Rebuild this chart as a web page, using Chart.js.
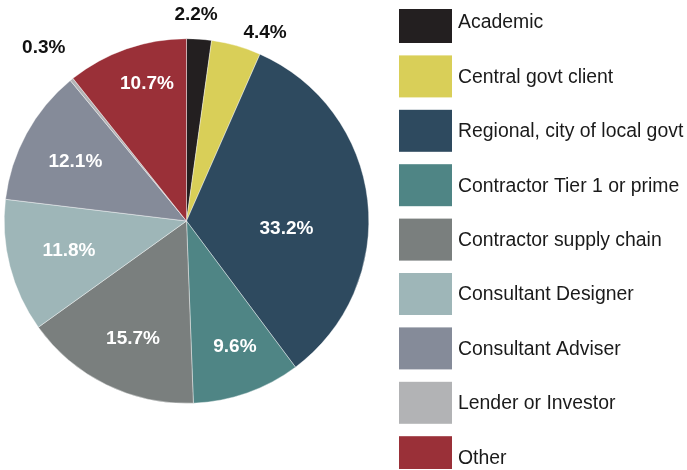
<!DOCTYPE html>
<html>
<head>
<meta charset="utf-8">
<script src="https://cdn.jsdelivr.net/npm/chart.js@4"></script>
<style>
  html, body { margin: 0; padding: 0; background: #fff; }
  #wrap { width: 687px; height: 470px; position: relative; }
</style>
</head>
<body>
<div id="wrap"><canvas id="c" width="687" height="470"></canvas></div>
<script>
// ---- data ----
const categories = [
  "Academic",
  "Central govt client",
  "Regional, city of local govt",
  "Contractor Tier 1 or prime",
  "Contractor supply chain",
  "Consultant Designer",
  "Consultant Adviser",
  "Lender or Investor",
  "Other"
];
const shares = [2.2, 4.4, 33.2, 9.6, 15.7, 11.8, 12.1, 0.3, 10.7];
const colors = ["#231f20", "#d9cf58", "#2e4a5f", "#4f8585", "#7a7f7e", "#9eb6b8", "#858b99", "#b2b3b5", "#9a3038"];

// label placement (radius factor of outer radius, angle shift in degrees, inside?)
const labelRadius = [1.13, 1.12, 0.55, 0.74, 0.71, 0.665, 0.69, 1.232, 0.784];
const labelShift  = [-1.3, 6.8, 10.9, -1.6, -1.7, 0.1, -0.7, -0.4, 3.2];
const labelInside = [false, false, true, true, true, true, true, false, true];

const FONT = "'Liberation Sans', Arial, sans-serif";

const labelPlugin = {
  id: 'sliceLabels',
  afterDatasetsDraw(chart) {
    const ctx = chart.ctx;
    const meta = chart.getDatasetMeta(0);
    ctx.save();
    ctx.font = "bold 19px " + FONT;
    ctx.textAlign = 'center';
    ctx.textBaseline = 'middle';
    meta.data.forEach((arc, i) => {
      const p = arc.getProps(['x', 'y', 'startAngle', 'endAngle', 'outerRadius'], true);
      const a = (p.startAngle + p.endAngle) / 2 + labelShift[i] * Math.PI / 180;
      const r = p.outerRadius * labelRadius[i];
      const x = p.x + Math.cos(a) * r;
      const y = p.y + Math.sin(a) * r;
      ctx.fillStyle = labelInside[i] ? '#ffffff' : '#111111';
      ctx.fillText(shares[i].toFixed(1) + '%', x, y);
    });
    ctx.restore();
  }
};

const legendPlugin = {
  id: 'sideLegend',
  afterDraw(chart) {
    const ctx = chart.ctx;
    const labels = chart.data.labels;
    const bg = chart.data.datasets[0].backgroundColor;
    const boxX = 399, boxW = 53, boxH = 42;
    const firstY = 22, step = 54.4;
    const clipTop = 9, clipBottom = 469;
    ctx.save();
    ctx.font = "19.4px " + FONT;
    ctx.textAlign = 'left';
    ctx.textBaseline = 'middle';
    labels.forEach((lab, i) => {
      const cy = firstY + i * step;
      const top = Math.max(cy - boxH / 2, clipTop);
      const bot = Math.min(cy + boxH / 2, clipBottom);
      ctx.fillStyle = bg[i];
      ctx.fillRect(boxX, top, boxW, bot - top);
      ctx.fillStyle = '#1a1a1a';
      ctx.fillText(lab, 458, cy + 1);
    });
    ctx.restore();
  }
};

new Chart(document.getElementById('c'), {
  type: 'pie',
  data: {
    labels: categories,
    datasets: [{
      data: shares,
      backgroundColor: colors,
      borderColor: '#ffffff',
      borderWidth: 0.4
    }]
  },
  options: {
    responsive: false,
    animation: false,
    layout: { padding: { left: 4, top: 38, right: 318, bottom: 66 } },
    plugins: {
      legend: { display: false },
      tooltip: { enabled: false }
    }
  },
  plugins: [labelPlugin, legendPlugin]
});
</script>
</body>
</html>
